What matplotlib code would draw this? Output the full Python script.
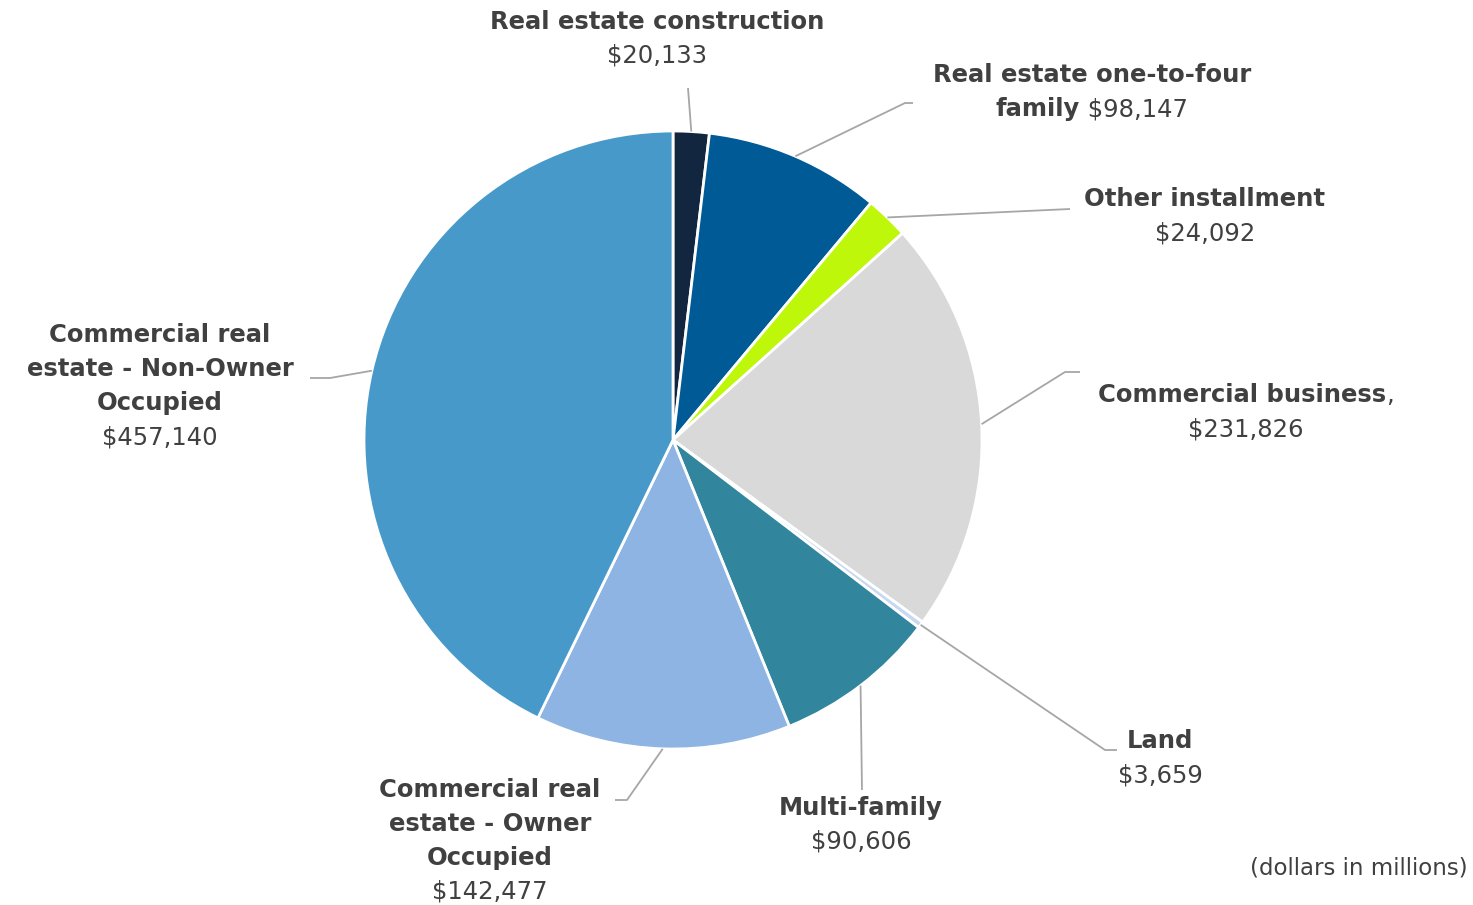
import matplotlib.pyplot as plt
import numpy as np

# データ
categories = [
    "Real estate construction",
    "Real estate one-to-four\nfamily",
    "Other installment",
    "Commercial business",
    "Land",
    "Multi-family",
    "Commercial real\nestate - Owner\nOccupied",
    "Commercial real\nestate - Non-Owner\nOccupied",
]
values = [20133, 98147, 24092, 231826, 3659, 90606, 142477, 457140]
colors = ["#13263F", "#005A96", "#BEF70A", "#D9D9D9",
          "#C6D9F1", "#31859C", "#8EB4E3", "#4799C9"]
# 名前と金額の区切り方
value_sep = ["\n", " ", "\n", ",\n", "\n", "\n", "\n", "\n"]
note = "(dollars in millions)"

W, H = 1473, 905
FS = 17.5
TXT = "#404040"
LINE = "#A6A6A6"
plt.rcParams['font.family'] = ['DejaVu Sans']

fig = plt.figure(figsize=(W / 100, H / 100), dpi=100)
ax = fig.add_axes([0, 0, 1, 1])

cx, cy, rad = 673, 440, 309
wedges, _ = ax.pie(values, colors=colors, startangle=90, counterclock=False,
                   center=(cx, H - cy), radius=rad,
                   wedgeprops=dict(edgecolor="white", linewidth=2))
ax.set_xlim(0, W)
ax.set_ylim(0, H)
ax.set_aspect("equal")
ax.axis("off")

# ラベル配置（中心x, 1行目のy）とリーダー線の折れ点（ピクセル座標）
label_pos = [(657, 22), (1092, 75), (1205, 199), (1246, 395),
             (1160, 741), (861, 808), (490, 790), (160, 335)]
elbows = [
    [(688, 88)],
    [(905, 103), (913, 103)],
    [(1070, 209)],
    [(1065, 372), (1080, 372)],
    [(1105, 750), (1117, 750)],
    [(862, 790)],
    [(627, 800), (615, 800)],
    [(330, 378), (310, 378)],
]

renderer = fig.canvas.get_renderer()


def put_label(seg_lines, x_c, y0, dy=34):
    for i, segs in enumerate(seg_lines):
        y = H - (y0 + i * dy)
        arts = []
        for s, bold in segs:
            t = ax.text(0, y, s, fontsize=FS, color=TXT, va="center", ha="left",
                        fontweight="bold" if bold else "normal")
            arts.append(t)
        widths = [a.get_window_extent(renderer).width for a in arts]
        x = x_c - sum(widths) / 2
        for a, w in zip(arts, widths):
            a.set_x(x)
            x += w


for w, name, v, sep, (lx, ly), pts in zip(wedges, categories, values,
                                           value_sep, label_pos, elbows):
    # リーダー線
    mid = np.deg2rad((w.theta1 + w.theta2) / 2)
    x0 = cx + rad * np.cos(mid)
    y0 = (H - cy) + rad * np.sin(mid)
    xs = [x0] + [p[0] for p in pts]
    ys = [y0] + [H - p[1] for p in pts]
    ax.plot(xs, ys, color=LINE, lw=1.3, solid_capstyle="butt")

    val = f"${v:,}"
    lines = [[(s, True)] for s in name.split("\n")]
    if sep == " ":
        lines[-1].append((" " + val, False))
    elif sep == ",\n":
        lines[-1].append((",", False))
        lines.append([(val, False)])
    else:
        lines.append([(val, False)])
    put_label(lines, lx, ly)

ax.text(1468, H - 868, note, fontsize=16.5, color=TXT, ha="right", va="center")

fig.savefig("out.png", dpi=100)
